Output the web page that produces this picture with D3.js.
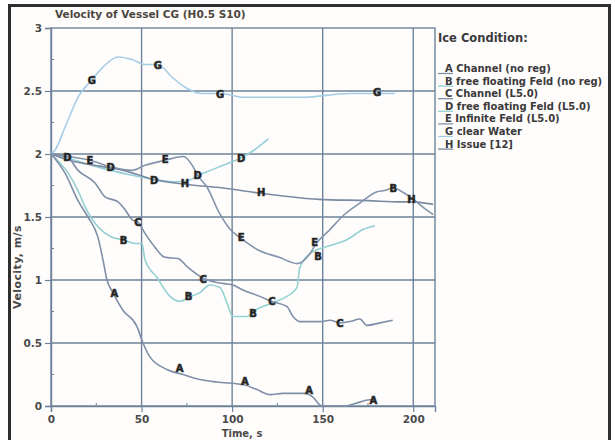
<!DOCTYPE html>
<html>
<head>
<meta charset="utf-8">
<script src="https://cdn.jsdelivr.net/npm/d3@7"></script>
<style>
  html, body { margin: 0; padding: 0; background: #fff; }
  svg { display: block; font-family: "DejaVu Sans", "Liberation Sans", Arial, sans-serif; }
</style>
</head>
<body>
<svg id="chart" width="615" height="440"></svg>
<script>
// Velocity of the vessel's centre of gravity, per ice condition (time in s, velocity in m/s)
const seriesKeys = ["A", "B", "C", "D", "E", "G", "H"];
const legendLabels = [
  "A Channel (no reg)",
  "B free floating Feld (no reg)",
  "C Channel (L5.0)",
  "D free floating Feld (L5.0)",
  "E Infinite Feld (L5.0)",
  "G clear Water",
  "H Issue [12]"
];

const timeA = [0, 7.7, 14.9, 20.4, 25.9, 28.7, 30.9, 34.2, 39.7, 47.5, 50.8, 54.6, 64, 72.8, 82.2, 91.6, 106, 113.7, 120.9, 128, 141, 144.6, 149.6, 162, 168, 176, 179];
const velA  = [2.0, 1.85, 1.63, 1.5, 1.34, 1.16, 1.0, 0.9, 0.76, 0.63, 0.5, 0.39, 0.29, 0.25, 0.21, 0.19, 0.17, 0.13, 0.09, 0.1, 0.1, 0.07, 0.0, 0.0, 0.02, 0.05, 0.05];

const timeB = [0, 9.4, 14.9, 18.8, 24.3, 33.7, 39.7, 46.4, 50.2, 51.9, 58.5, 65.7, 71.2, 75.6, 82.2, 87.7, 93.3, 97.1, 100.4, 108.2, 111.5, 122.5, 130.2, 135.8, 137.4, 143, 146.8, 155.6, 163.4, 172.2, 178.8];
const velB  = [2.0, 1.85, 1.71, 1.58, 1.45, 1.34, 1.32, 1.29, 1.29, 1.16, 1.02, 0.87, 0.83, 0.86, 0.9, 0.96, 0.94, 0.82, 0.71, 0.71, 0.75, 0.82, 0.87, 0.94, 1.1, 1.21, 1.24, 1.28, 1.32, 1.4, 1.43];

const timeC = [0, 8.8, 14.9, 24.3, 29.8, 37, 40.8, 44.7, 48, 51.9, 57.4, 62.9, 70.1, 75.6, 83.3, 91.6, 100.4, 106, 115.3, 122, 130.2, 133.6, 137.4, 148.5, 154, 159.5, 165, 170.5, 174.4, 181.6, 188.7];
const velC  = [2.0, 1.98, 1.87, 1.77, 1.66, 1.62, 1.56, 1.48, 1.46, 1.37, 1.26, 1.18, 1.17, 1.1, 1.02, 0.98, 0.96, 0.92, 0.87, 0.83, 0.79, 0.71, 0.67, 0.67, 0.68, 0.66, 0.67, 0.69, 0.64, 0.66, 0.68];

const timeD = [0, 9, 20, 30, 42, 56, 68, 76, 81, 88, 95, 105, 112, 120];
const velD  = [2.0, 1.97, 1.92, 1.88, 1.84, 1.8, 1.78, 1.79, 1.83, 1.87, 1.91, 1.97, 2.03, 2.12];

const timeE = [0, 10, 21.5, 32.6, 44.7, 52, 63, 73, 78, 81, 86, 93, 99, 105, 114, 126, 136, 143, 146, 154, 162, 170.5, 180, 184, 189, 195, 201, 206, 211];
const velE  = [2.0, 1.98, 1.95, 1.9, 1.87, 1.91, 1.95, 1.98, 1.91, 1.83, 1.74, 1.53, 1.4, 1.33, 1.24, 1.18, 1.13, 1.21, 1.28, 1.4, 1.52, 1.61, 1.7, 1.71, 1.73, 1.69, 1.63, 1.57, 1.52];

const timeG = [0, 2.2, 7.7, 14.9, 22.6, 28.7, 37, 44.7, 51.9, 59, 66.8, 74, 83.3, 93.3, 107, 139, 165, 180, 190];
const velG  = [2.0, 2.03, 2.21, 2.45, 2.59, 2.69, 2.77, 2.75, 2.71, 2.71, 2.61, 2.53, 2.48, 2.48, 2.45, 2.45, 2.48, 2.48, 2.48];

const timeH = [0, 10, 20, 32.6, 40, 56, 74, 95, 115, 148, 175, 193, 200, 211];
const velH  = [2.0, 1.95, 1.92, 1.89, 1.87, 1.8, 1.76, 1.73, 1.69, 1.64, 1.63, 1.62, 1.62, 1.6];

// Letter markers placed along each curve: series, time, velocity
const markerSeries = ["A","A","A","A","A", "B","B","B","B","B", "C","C","C","C", "D","D","D","D","D", "E","E","E","E", "G","G","G","G", "H","H","H"];
const markerTime   = [35, 71, 107, 142.5, 178, 40, 76, 111.5, 147.5, 189, 48, 84, 122, 159.5, 9, 33, 57, 81, 105, 21.5, 63, 105, 145.5, 22.6, 59, 93.3, 180, 74, 116, 199];
const markerVel    = [0.9, 0.3, 0.2, 0.13, 0.05, 1.32, 0.87, 0.74, 1.19, 1.73, 1.46, 1.01, 0.83, 0.66, 1.98, 1.9, 1.79, 1.83, 1.97, 1.95, 1.96, 1.34, 1.30, 2.59, 2.71, 2.48, 2.49, 1.77, 1.70, 1.64];

const yTicks = [0, 0.5, 1, 1.5, 2, 2.5, 3];
const yTickLabels = ["0", "0.5", "1", "1.5", "2", "2.5", "3"];
const xTicks = [0, 50, 100, 150, 200];

const series = {
  A: { t: timeA, v: velA, color: "#7f8fa8" },
  B: { t: timeB, v: velB, color: "#93d0d2" },
  C: { t: timeC, v: velC, color: "#7f8fa8" },
  D: { t: timeD, v: velD, color: "#95cfd8" },
  E: { t: timeE, v: velE, color: "#8393ab" },
  G: { t: timeG, v: velG, color: "#a6cde6" },
  H: { t: timeH, v: velH, color: "#7a8aa2" }
};

const svg = d3.select("#chart");
const plotLeft = 51, plotRight = 435, plotTop = 28, plotBottom = 406;
const x = d3.scaleLinear().domain([0, 212]).range([plotLeft, plotRight]);
const y = d3.scaleLinear().domain([0, 3]).range([plotBottom, plotTop]);
const gridColor = "#6d8299";
const textColor = "#4a4a4a";
const font = "DejaVu Sans, Liberation Sans, Arial, sans-serif";

// Outer frame
svg.append("rect").attr("x", 9.5).attr("y", 5.5).attr("width", 600).attr("height", 440)
  .attr("fill", "#fffdfc").attr("stroke", "#2f2f2f").attr("stroke-width", 3);

// Grid
const grid = svg.append("g");
grid.selectAll("line.h").data(yTicks.filter(d => d > 0 && d < 3)).join("line")
  .attr("x1", plotLeft).attr("x2", plotRight).attr("y1", d => y(d)).attr("y2", d => y(d))
  .attr("stroke", gridColor).attr("stroke-width", 1.4);
grid.selectAll("line.v").data(xTicks.filter(d => d > 0)).join("line")
  .attr("y1", plotTop).attr("y2", plotBottom).attr("x1", d => x(d)).attr("x2", d => x(d))
  .attr("stroke", gridColor).attr("stroke-width", 1.4);
svg.append("rect").attr("x", plotLeft).attr("y", plotTop).attr("width", plotRight - plotLeft).attr("height", plotBottom - plotTop)
  .attr("fill", "none").attr("stroke", gridColor).attr("stroke-width", 1.4);

// Axes
const yAxis = d3.axisLeft(y).tickValues(yTicks).tickFormat((d, i) => yTickLabels[i]).tickSize(6).tickPadding(3);
const gy = svg.append("g").attr("transform", `translate(${plotLeft},0)`).call(yAxis);
const xAxis = d3.axisBottom(x).tickValues(xTicks).tickSize(6).tickPadding(4);
const gx = svg.append("g").attr("transform", `translate(0,${plotBottom})`).call(xAxis);
[gx, gy].forEach(g => {
  g.select(".domain").attr("stroke", gridColor).attr("stroke-width", 1.4);
  g.selectAll(".tick line").attr("stroke", gridColor).attr("stroke-width", 1.2);
  g.selectAll(".tick text").attr("fill", textColor).attr("font-size", 10.5).attr("font-weight", "bold")
    .attr("font-family", font);
});

// Minor ticks
svg.append("g").selectAll("line").data([0.25, 0.75, 1.25, 1.75, 2.25, 2.75]).join("line")
  .attr("x1", plotLeft).attr("x2", plotLeft + 3).attr("y1", d => y(d)).attr("y2", d => y(d))
  .attr("stroke", gridColor).attr("stroke-width", 1);
svg.append("g").selectAll("line").data([25, 75, 125, 175]).join("line")
  .attr("x1", d => x(d)).attr("x2", d => x(d)).attr("y1", plotBottom).attr("y2", plotBottom - 3)
  .attr("stroke", gridColor).attr("stroke-width", 1);

// Curves
const line = d3.line().x(d => x(d[0])).y(d => y(d[1])).curve(d3.curveMonotoneX);
const drawOrder = ["G", "D", "B", "H", "E", "C", "A"];
drawOrder.forEach(k => {
  const s = series[k];
  const pts = s.t.map((t, i) => [t, s.v[i]]);
  svg.append("path").datum(pts).attr("d", line)
    .attr("fill", "none").attr("stroke", s.color).attr("stroke-width", 1.6)
    .attr("stroke-linejoin", "round");
});

// Letter markers
const markers = markerSeries.map((k, i) => ({ k, t: markerTime[i], v: markerVel[i] }));
svg.append("g").selectAll("text").data(markers).join("text")
  .attr("x", d => x(d.t)).attr("y", d => y(d.v) + 4)
  .attr("text-anchor", "middle").attr("font-size", 10).attr("font-weight", "bold")
  .attr("font-family", font)
  .attr("fill", "#1e1e1e").attr("stroke", "#333").attr("stroke-width", 0.6)
  .text(d => d.k);

// Title and axis titles
svg.append("text").attr("x", 55).attr("y", 18).attr("font-size", 10.5).attr("font-weight", "bold")
  .attr("font-family", font).attr("fill", "#4d4640").text("Velocity of Vessel CG (H0.5 S10)");
svg.append("text").attr("x", 242).attr("y", 437).attr("text-anchor", "middle").attr("font-size", 10)
  .attr("font-family", font).attr("font-weight", "bold").attr("fill", textColor).text("Time, s");
svg.append("text").attr("transform", "translate(21,267) rotate(-90)").attr("text-anchor", "middle")
  .attr("font-family", font).attr("font-size", 11).attr("font-weight", "bold").attr("fill", textColor)
  .attr("letter-spacing", 0.4).text("Velocity, m/s");

// Legend
svg.append("text").attr("x", 438).attr("y", 42).attr("font-size", 11.5).attr("font-weight", "bold")
  .attr("font-family", font).attr("fill", "#3a3a3a").text("Ice Condition:");
const lg = svg.append("g").selectAll("g").data(seriesKeys).join("g")
  .attr("transform", (d, i) => `translate(0,${72 + i * 12.6})`);
lg.append("line").attr("x1", 438).attr("x2", 453).attr("y1", 1.5).attr("y2", 1.5)
  .attr("stroke", d => series[d].color).attr("stroke-width", 1.3);
lg.append("text").attr("x", 445).attr("y", 0).attr("font-size", 10).attr("font-weight", "bold")
  .attr("font-family", font).attr("fill", "#3a3a3a").text((d, i) => legendLabels[i]);
</script>
</body>
</html>
